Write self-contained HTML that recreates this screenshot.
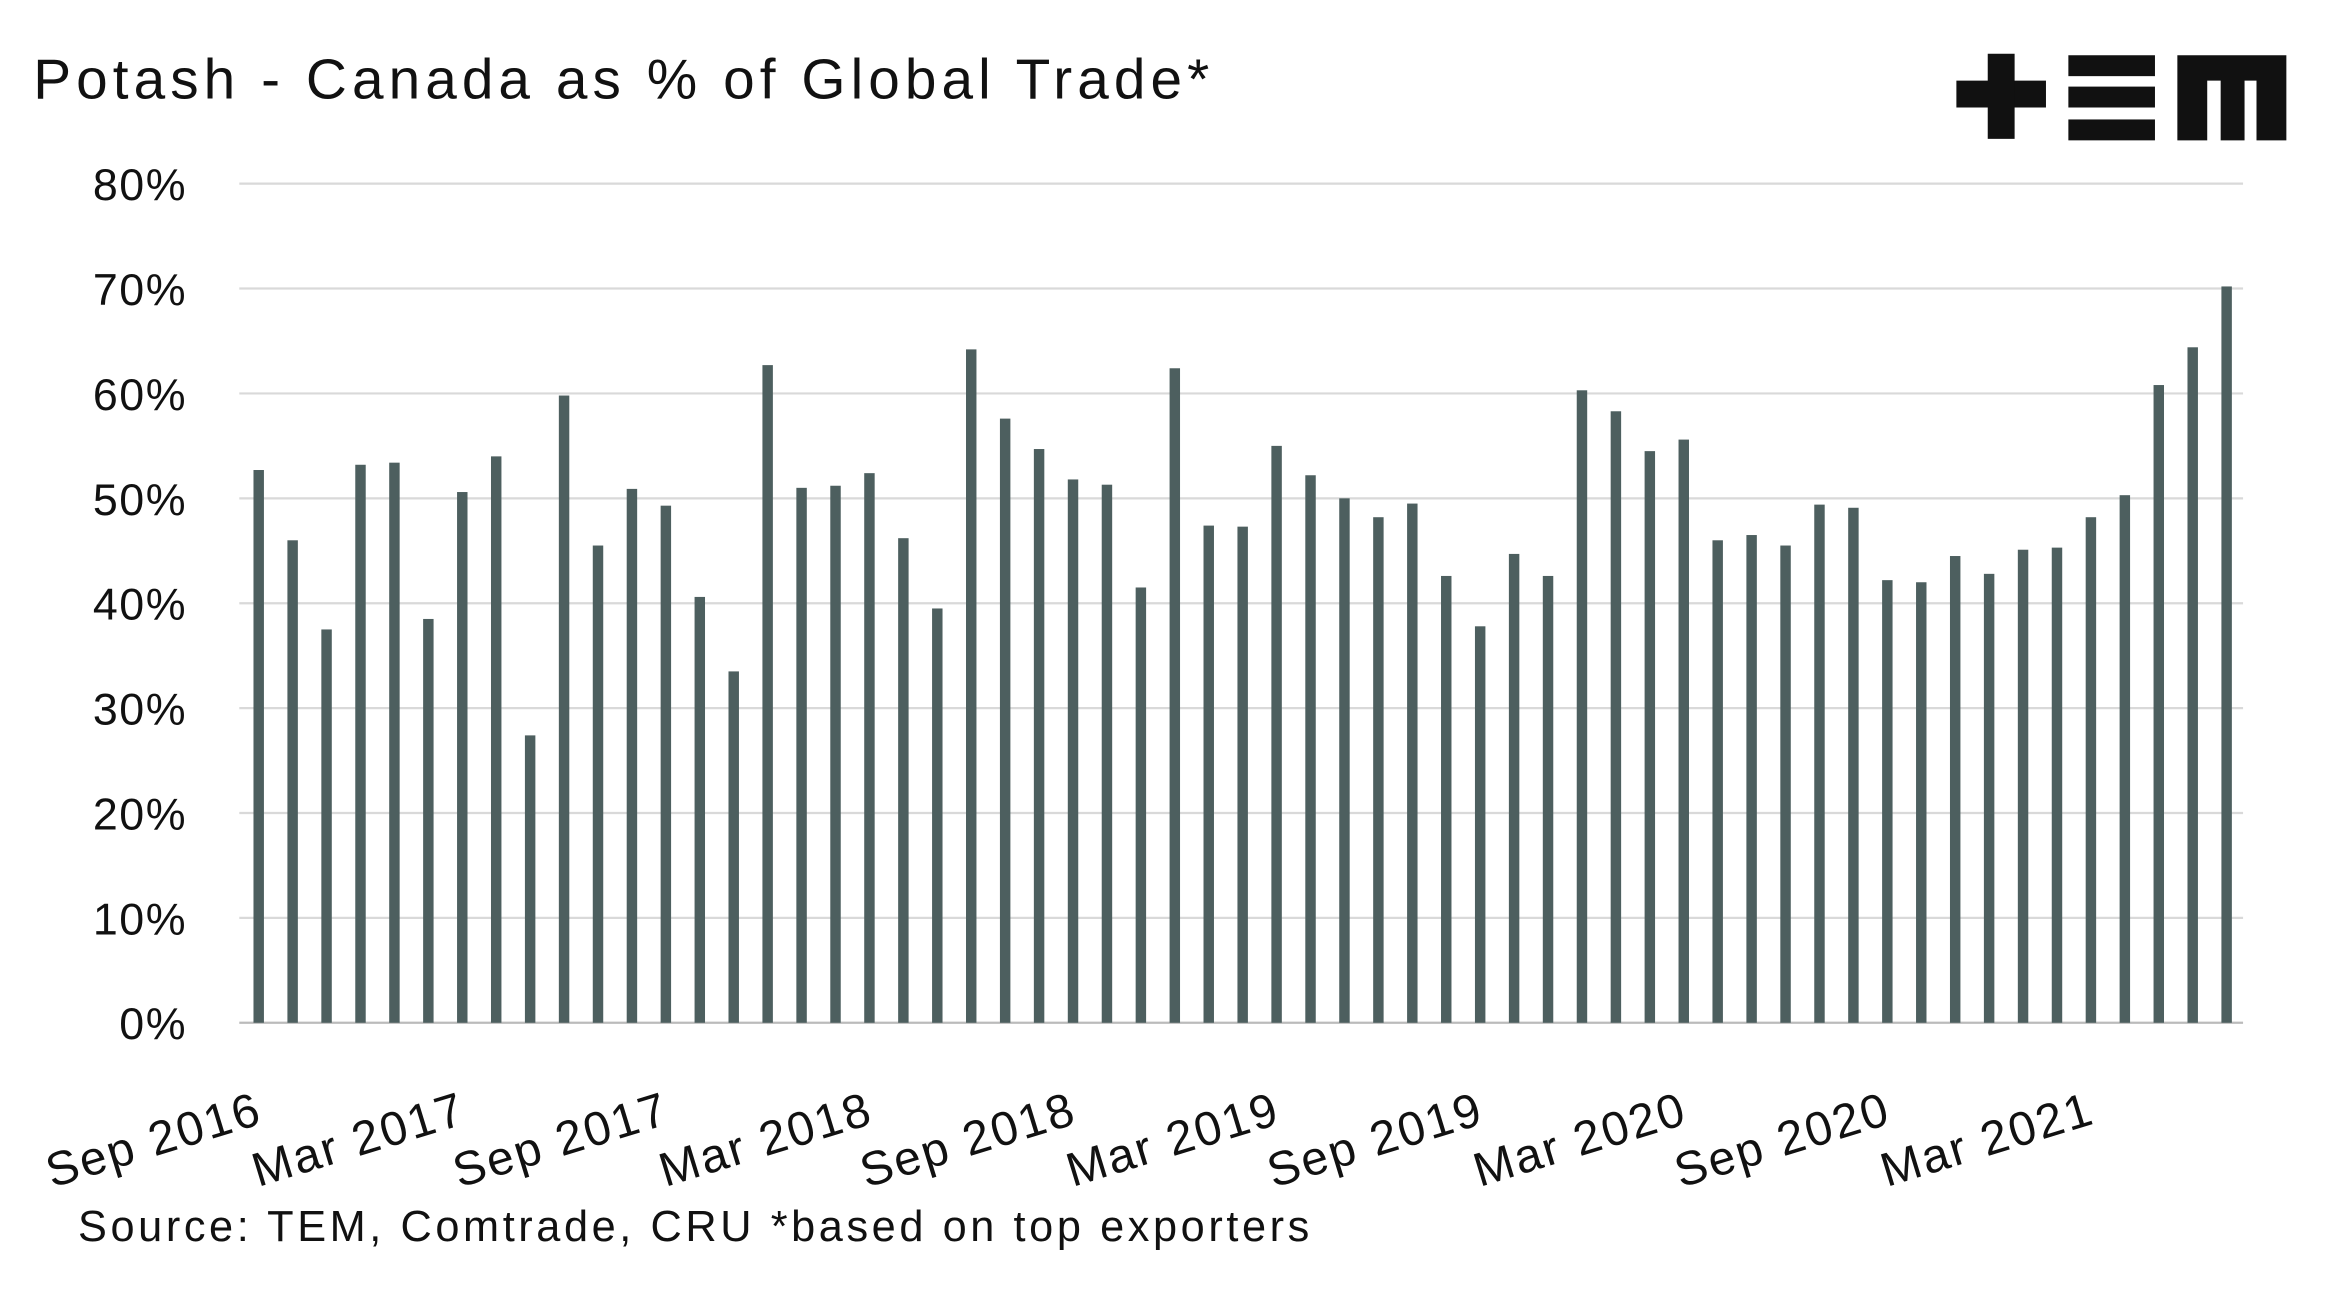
<!DOCTYPE html>
<html><head><meta charset="utf-8"><style>
html,body{margin:0;padding:0;background:#fff;}
svg{display:block;font-family:"Liberation Sans",sans-serif;}
</style></head><body>
<svg id="chart" width="2342" height="1302" viewBox="0 0 1568 872" xmlns="http://www.w3.org/2000/svg">
<rect width="1568" height="872" fill="#fff"/>
<text x="22" y="66" font-size="38" letter-spacing="3.4" fill="#111">Potash - Canada as % of Global Trade*</text>
<g fill="#111">
<rect x="1310" y="54" width="60" height="18"/><rect x="1331" y="36" width="18" height="57"/>
<rect x="1385" y="37" width="58" height="14"/><rect x="1385" y="58" width="58" height="14"/><rect x="1385" y="80" width="58" height="14"/>
<path d="M1458 37 H1531 V94 H1511 V54 H1503 V94 H1487 V54 H1478 V94 H1458 Z"/>
</g>
<g id="grid"></g><g id="bars"></g><g id="yticks"></g><g id="xticks"></g>
<text x="52" y="831" font-size="29" letter-spacing="2.4" fill="#111">Source: TEM, Comtrade, CRU  *based on top exporters</text>
</svg>
<script>
const values=[52.7,46,37.5,53.2,53.4,38.5,50.6,54,27.4,59.8,45.5,50.9,49.3,40.6,33.5,62.7,51,51.2,52.4,46.2,39.5,64.2,57.6,54.7,51.8,51.3,41.5,62.4,47.4,47.3,55,52.2,50,48.2,49.5,42.6,37.8,44.7,42.6,60.3,58.3,54.5,55.6,46,46.5,45.5,49.4,49.1,42.2,42,44.5,42.8,45.1,45.3,48.2,50.3,60.8,64.4,70.2];
const yTicks=[0,10,20,30,40,50,60,70,80];
const xLabels=["Sep 2016","Mar 2017","Sep 2017","Mar 2018","Sep 2018","Mar 2019","Sep 2019","Mar 2020","Sep 2020","Mar 2021"];
const NS="http://www.w3.org/2000/svg";
const y=v=>685-v*(685-123)/80;
const x=i=>173+i*(1491-173)/(values.length-1);
function mk(t,a,p){const e=document.createElementNS(NS,t);for(const k in a)e.setAttribute(k,a[k]);document.getElementById(p).appendChild(e);return e;}
yTicks.forEach(t=>{
 const g=mk('line',{x1:160,x2:1502,y1:y(t),y2:y(t),stroke:t===0?'#bbb':'#d9d9d9','stroke-width':1.5},'grid');
 
 
 const l=mk('text',{x:125,y:y(t)+11,'text-anchor':'end','font-size':30,'letter-spacing':1,fill:'#111'},'yticks');
 l.textContent=t+'%';
 
 
});
values.forEach((v,i)=>{
 const b=mk('rect',{x:x(i)-3.5,y:y(v),width:7,height:685-y(v),fill:'#4d5f5f'},'bars');
 
 
});
xLabels.forEach((s,k)=>{
 const xi=x(k*6)+4, yi=752;
 const l=mk('text',{x:xi,y:yi,'text-anchor':'end','font-size':32,'letter-spacing':1.5,fill:'#111',transform:`rotate(-17 ${xi} ${yi})`},'xticks');
 l.textContent=s;
 
 
});
</script>
</body></html>
